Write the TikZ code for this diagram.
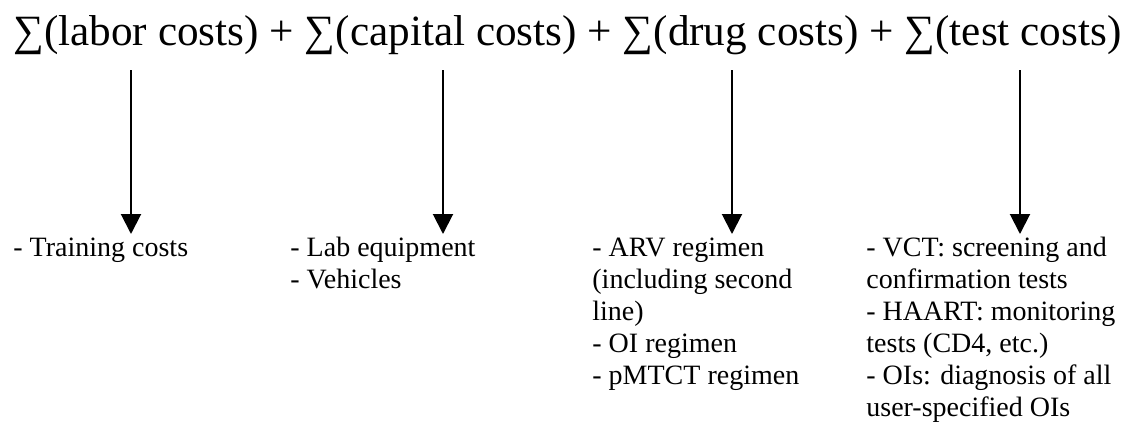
\documentclass[tikz,border=0pt]{standalone}
\usepackage{fontspec}
\setmainfont{Liberation Serif}
\usetikzlibrary{arrows.meta}
\usetikzlibrary{calc}

\tikzset{
  costarrow/.style={line width=1pt, -{Triangle[width=10pt,length=10pt]}},
  costlist/.style={anchor=north west, inner sep=0pt, align=left, font=\fontsize{14}{16}\selectfont}
}

\begin{document}
\begin{tikzpicture}[x=0.5pt, y=-0.5pt]
          \useasboundingbox (0,0) rectangle (1132,424);

          \node[anchor=base west, inner sep=0pt, font=\fontsize{21.6}{26}\selectfont] (total) at (13,45)
          {∑(labor costs) + ∑(capital costs) + ∑(drug costs) + ∑(test costs)};

          % lists: top of first line box = baseline 253 minus strut height
          \node[costlist] (labor) at (13,234) {\strut- Training costs};
          \node[costlist] (capital) at (290,234) {\strut- Lab equipment\\- Vehicles};
          \node[costlist] (drug) at (592,234) {\strut- ARV regimen\\(including second\\line)\\- OI regimen\\- pMTCT regimen};
          \node[costlist] (test) at (866,234) {\strut- VCT: screening and\\confirmation tests\\- HAART: monitoring\\tests (CD4, etc.)\\- OIs: diagnosis of all\\user-specified OIs};

          \coordinate (labortop) at (131,70);
          \coordinate (capitaltop) at (443,70);
          \coordinate (drugtop) at (732,70);
          \coordinate (testtop) at (1020,70);

          \draw [costarrow] (labortop) -- (labortop |- labor.north);
          \draw [costarrow] (capitaltop) -- (capitaltop |- capital.north);
          \draw [costarrow] (drugtop) -- (drugtop |- drug.north);
          \draw [costarrow] (testtop) -- (testtop |- test.north);
\end{tikzpicture}
\end{document}
